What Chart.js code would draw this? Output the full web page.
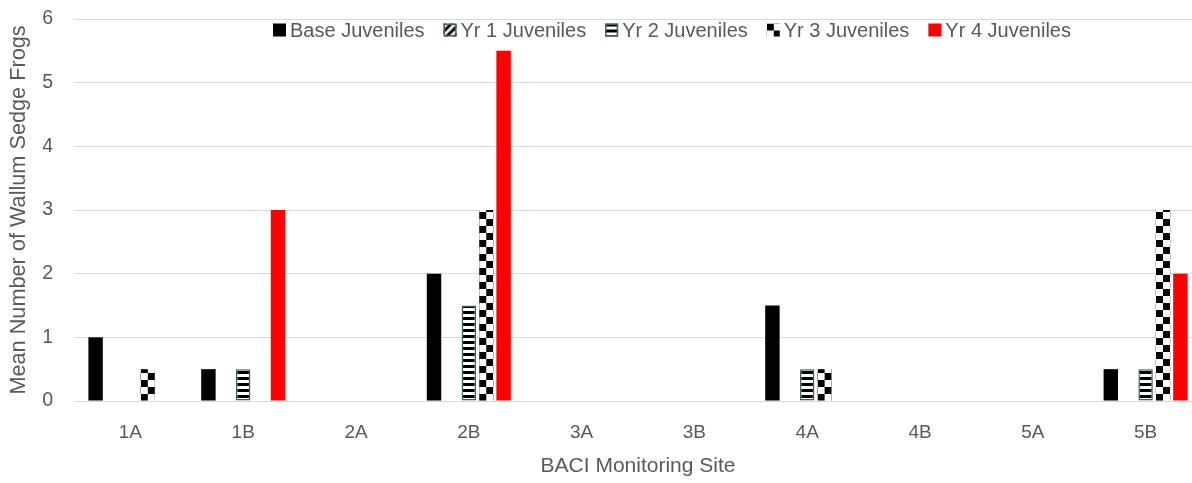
<!DOCTYPE html>
<html><head><meta charset="utf-8">
<script src="https://cdn.jsdelivr.net/npm/chart.js@4.4.1/dist/chart.umd.min.js"></script>
<style>
html,body{margin:0;padding:0;background:#fff;overflow:hidden;}
#wrap{position:relative;width:1205px;height:483px;}
</style></head><body>
<div id="wrap"><canvas id="c"></canvas></div>
<script>
const sites = ['1A','1B','2A','2B','3A','3B','4A','4B','5A','5B'];
const seriesNames = ['Base Juveniles','Yr 1 Juveniles','Yr 2 Juveniles','Yr 3 Juveniles','Yr 4 Juveniles'];
const baseJuveniles = [1, 0.5, 0, 2, 0, 0, 1.5, 0, 0, 0.5];
const yr1Juveniles  = [0, 0, 0, 0, 0, 0, 0, 0, 0, 0];
const yr2Juveniles  = [0, 0.5, 0, 1.5, 0, 0, 0.5, 0, 0, 0.5];
const yr3Juveniles  = [0.5, 0, 0, 3, 0, 0, 0.5, 0, 0, 3];
const yr4Juveniles  = [0, 3, 0, 5.5, 0, 0, 0, 0, 0, 2];
const yTicks = [0, 1, 2, 3, 4, 5, 6];

const FONT = '"Liberation Sans", Arial, sans-serif';
const TEXT = '#595959';
const GRID = '#d9d9d9';
const TEAL = '#44605f';
const CAT_PCT = 0.771;
const BAR_PCT = 0.83;

function makeTile(w, h, draw) {
  const c = document.createElement('canvas');
  c.width = w; c.height = h;
  const x = c.getContext('2d');
  draw(x);
  return x.createPattern(c, 'repeat');
}
function diagPattern() {
  return makeTile(8, 8, x => {
    x.fillStyle = '#fff'; x.fillRect(0, 0, 8, 8);
    x.strokeStyle = '#000'; x.lineWidth = 3;
    x.beginPath(); x.moveTo(-2, 10); x.lineTo(10, -2); x.stroke();
    x.beginPath(); x.moveTo(-2, 2); x.lineTo(2, -2); x.stroke();
    x.beginPath(); x.moveTo(6, 10); x.lineTo(10, 6); x.stroke();
  });
}
function hstripePattern() {
  return makeTile(6, 6, x => {
    x.fillStyle = '#fff'; x.fillRect(0, 0, 6, 6);
    x.fillStyle = '#000'; x.fillRect(0, 0, 6, 3);
  });
}
function checkerPattern() {
  return makeTile(14, 14, x => {
    x.fillStyle = '#fff'; x.fillRect(0, 0, 14, 14);
    x.fillStyle = '#000'; x.fillRect(0, 0, 7, 7); x.fillRect(7, 7, 7, 7);
  });
}

function barCenter(ctx) {
  const xs = ctx.chart.scales.x;
  const catW = xs.width / sites.length;
  const step = catW * CAT_PCT / 5;
  return xs.getPixelForValue(ctx.dataIndex) + (ctx.datasetIndex - 2) * step;
}
function alignedPattern(maker) {
  return function (ctx) {
    const p = maker();
    if (ctx.type === 'data' && ctx.chart.scales && ctx.chart.scales.x) {
      const cx = barCenter(ctx);
      p.setTransform(new DOMMatrix([1, 0, 0, 1, cx, 401]));
    }
    return p;
  };
}

const legendSwatches = [
  { fill: () => '#000', stroke: null },
  { fill: diagPattern, stroke: TEAL },
  { fill: hstripePattern, stroke: TEAL },
  { fill: checkerPattern, stroke: null },
  { fill: () => '#ff0000', stroke: null }
];

const customLegend = {
  id: 'customLegend',
  afterDraw(chart) {
    const c = chart.ctx;
    c.save();
    c.font = '20px ' + FONT;
    c.textBaseline = 'alphabetic';
    c.textAlign = 'left';
    let x = 273;
    const sy = 23.5, sz = 13, ty = 36.5;
    chart.data.datasets.forEach((ds, i) => {
      const sw = legendSwatches[i];
      let f = sw.fill();
      if (typeof f !== 'string') f.setTransform(new DOMMatrix([1, 0, 0, 1, x, sy]));
      c.fillStyle = f;
      c.fillRect(x, sy, sz, sz);
      if (sw.stroke) {
        c.strokeStyle = sw.stroke; c.lineWidth = 1.5;
        c.strokeRect(x + 0.75, sy + 0.75, sz - 1.5, sz - 1.5);
      }
      const tx = x + sz + 4;
      c.fillStyle = TEXT;
      c.fillText(ds.label, tx, ty);
      x = tx + c.measureText(ds.label).width + 19;
    });
    c.restore();
  }
};

const datasets = [
  { label: seriesNames[0], data: baseJuveniles, backgroundColor: '#000000', borderWidth: 0 },
  { label: seriesNames[1], data: yr1Juveniles, backgroundColor: alignedPattern(diagPattern), borderColor: TEAL, borderWidth: 1.5, borderSkipped: false },
  { label: seriesNames[2], data: yr2Juveniles, backgroundColor: alignedPattern(hstripePattern), borderColor: TEAL, borderWidth: 1.5, borderSkipped: false },
  { label: seriesNames[3], data: yr3Juveniles, backgroundColor: alignedPattern(checkerPattern), borderWidth: 0 },
  { label: seriesNames[4], data: yr4Juveniles, backgroundColor: '#ff0000', borderWidth: 0 }
];
datasets.forEach(d => { d.categoryPercentage = CAT_PCT; d.barPercentage = BAR_PCT; });

new Chart(document.getElementById('c'), {
  type: 'bar',
  data: { labels: sites, datasets },
  plugins: [customLegend],
  options: {
    responsive: true,
    maintainAspectRatio: false,
    animation: false,
    layout: { padding: { top: 19, right: 3, left: 0, bottom: 0 } },
    plugins: { legend: { display: false }, tooltip: { enabled: false } },
    scales: {
      x: {
        grid: { display: false, drawTicks: false },
        border: { display: true, color: GRID, width: 1 },
        ticks: { color: TEXT, font: { family: FONT, size: 19 }, padding: 20 },
        title: { display: true, text: 'BACI Monitoring Site', color: TEXT, font: { family: FONT, size: 21 }, padding: { top: 0, bottom: 4 } },
        afterFit(s) { s.height = 82; s.paddingLeft = 0; s.paddingRight = 0; }
      },
      y: {
        min: 0, max: 6,
        afterBuildTicks(s) { s.ticks = yTicks.map(v => ({ value: v })); },
        grid: { color: GRID, lineWidth: 1, drawTicks: false },
        border: { display: false },
        ticks: { color: TEXT, font: { family: FONT, size: 19.5 }, padding: 21 },
        title: { display: true, text: 'Mean Number of Wallum Sedge Frogs', color: TEXT, font: { family: FONT, size: 21.7 }, padding: { top: 6, bottom: 0 } },
        afterFit(s) { s.width = 74; s.paddingTop = 0; s.paddingBottom = 0; }
      }
    }
  }
});
</script>
</body></html>
